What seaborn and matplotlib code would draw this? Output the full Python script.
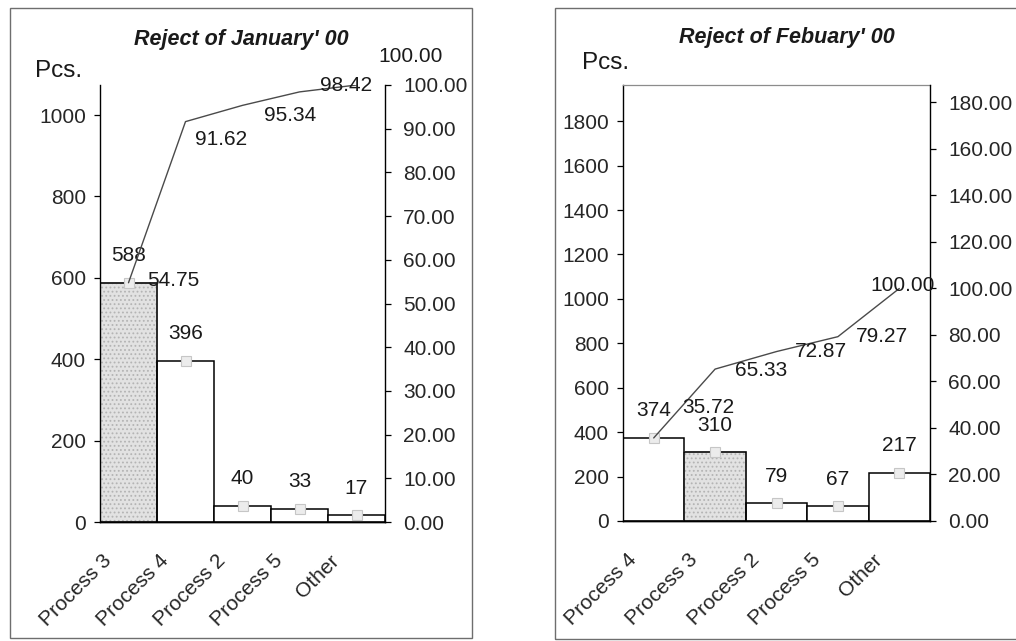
import matplotlib
matplotlib.use("Agg")
import matplotlib.pyplot as plt
import matplotlib.transforms as mtransforms
from matplotlib.patches import Rectangle
from matplotlib.ticker import FormatStrFormatter
import numpy as np
import pandas as pd
import seaborn as sns

# January 2000 rejects, sorted for the Pareto view
jan_categories = ["Process 3", "Process 4", "Process 2", "Process 5", "Other"]
jan_counts = [588, 396, 40, 33, 17]
jan_cumulative = [54.75, 91.62, 95.34, 98.42, 100.00]

# February 2000 rejects
feb_categories = ["Process 4", "Process 3", "Process 2", "Process 5", "Other"]
feb_counts = [374, 310, 79, 67, 217]
feb_cumulative = [35.72, 65.33, 72.87, 79.27, 100.00]

highlight = "Process 3"

sns.set_style("white")
plt.rcParams["font.family"] = ["Liberation Sans", "DejaVu Sans"]
plt.rcParams["text.color"] = "#1a1a1a"
plt.rcParams["hatch.linewidth"] = 0.8

W, H = 1016, 641
fig = plt.figure(figsize=(W / 100, H / 100), dpi=100)
fig.patch.set_facecolor("white")


def fx(px):
    return px / W


def fy(py):
    return 1 - py / H


def pareto(rect, title, title_xy, pcs_xy, cats, counts, cum, right_max,
           right_step, left_step, pct_offsets, top_border):
    ax = fig.add_axes(rect)
    n = len(cats)
    pos = np.arange(n)
    total = sum(counts)
    df = pd.DataFrame({"process": cats, "pcs": counts})
    sns.barplot(data=df, x="process", y="pcs", ax=ax, color="white",
                edgecolor="black", linewidth=1.1, width=1.0, saturation=1,
                zorder=2)
    for patch, cat in zip(ax.containers[0], cats):
        if cat == highlight:
            patch.set_facecolor("#e2e2e2")
            patch.set_hatch("....")
            patch.set_edgecolor("#b4b4b4")
            ax.add_patch(Rectangle((patch.get_x(), patch.get_y()),
                                   patch.get_width(), patch.get_height(),
                                   fill=False, ec="black", lw=1.1, zorder=3))
    # small markers sitting on each bar top
    ax.plot(pos, counts, ls="none", marker="s", ms=7, mfc="#ececec",
            mec="#c6c6c6", mew=0.8, zorder=4)

    ax.set_xlim(-0.5, n - 0.5)
    ax.set_ylim(0, total * right_max / 100)
    ax.set_yticks(np.arange(0, total * right_max / 100, left_step))
    ax.set_xlabel("")
    ax.set_ylabel("")
    ax.set_xticks(pos)
    ax.set_xticklabels(cats, rotation=45, ha="right", va="center",
                       rotation_mode="anchor", fontsize=15)
    ax.set_xticks(np.arange(-0.5, n, 1.0), minor=True)
    ax.tick_params(axis="x", which="major", length=0, pad=26)
    ax.tick_params(axis="x", which="minor", length=4, width=0.9,
                   direction="out", color="black")
    shift = mtransforms.ScaledTranslation(-20 / 100, 0, fig.dpi_scale_trans)
    for lab in ax.get_xticklabels():
        lab.set_transform(lab.get_transform() + shift)
    ax.tick_params(axis="y", length=4, width=0.9, pad=6, labelsize=15,
                   direction="out", color="black", left=True)

    for i, v in enumerate(counts):
        ax.annotate(str(v), (i, v), xytext=(0, 27), textcoords="offset pixels",
                    ha="center", va="center", fontsize=15, zorder=6)

    ax2 = ax.twinx()
    sns.lineplot(x=pos, y=cum, ax=ax2, color="#4a4a4a", lw=1.0, sort=False)
    ax2.set_ylim(0, right_max)
    ax2.set_yticks(np.arange(0, right_max + 1e-9, right_step))
    ax2.yaxis.set_major_formatter(FormatStrFormatter("%.2f"))
    ax2.tick_params(axis="y", length=4, width=0.9, pad=9, labelsize=15,
                    direction="out", color="black", right=True)
    ax2.set_ylabel("")
    for (i, c), off in zip(enumerate(cum), pct_offsets):
        ax2.annotate(f"{c:.2f}", (i, c), xytext=off,
                     textcoords="offset pixels", ha="center", va="center",
                     fontsize=15)

    for a in (ax, ax2):
        for side in ("left", "right", "bottom"):
            a.spines[side].set_color("black")
            a.spines[side].set_linewidth(1.0)
        a.spines["top"].set_visible(False)
    ax2.spines["left"].set_visible(False)
    ax.spines["right"].set_visible(False)
    if top_border:
        ax.spines["top"].set_visible(True)
        ax.spines["top"].set_color("#8c8c8c")
        ax.spines["top"].set_linewidth(0.9)

    fig.text(fx(title_xy[0]), fy(title_xy[1]), title, ha="center",
             va="center", fontsize=15.5, fontweight="bold", style="italic")
    fig.text(fx(pcs_xy[0]), fy(pcs_xy[1]), "Pcs.", ha="left", va="center",
             fontsize=17.5)
    return ax, ax2


# panel frames
fig.add_artist(Rectangle((fx(10), fy(638)), fx(462), 630 / H,
                         transform=fig.transFigure, fill=False,
                         ec="#6e6e6e", lw=1.0))
fig.add_artist(Rectangle((fx(555), fy(639)), fx(470), 631 / H,
                         transform=fig.transFigure, fill=False,
                         ec="#6e6e6e", lw=1.0))

pareto([fx(100), fy(522), fx(285), 437 / H], "Reject of January' 00",
       (241, 40), (35, 71), jan_categories, jan_counts, jan_cumulative,
       right_max=100, right_step=10, left_step=200,
       pct_offsets=[(45, 2), (36, -18), (48, -10), (47, 6), (54, 28)],
       top_border=False)

pareto([fx(623), fy(521), fx(307), 436 / H], "Reject of Febuary' 00",
       (787, 38), (582, 63), feb_categories, feb_counts, feb_cumulative,
       right_max=187.5, right_step=20, left_step=200,
       pct_offsets=[(55, 30), (46, -1), (44, 0), (44, 0), (3, 3)],
       top_border=True)

fig.savefig("out.png", dpi=100, facecolor="white")
